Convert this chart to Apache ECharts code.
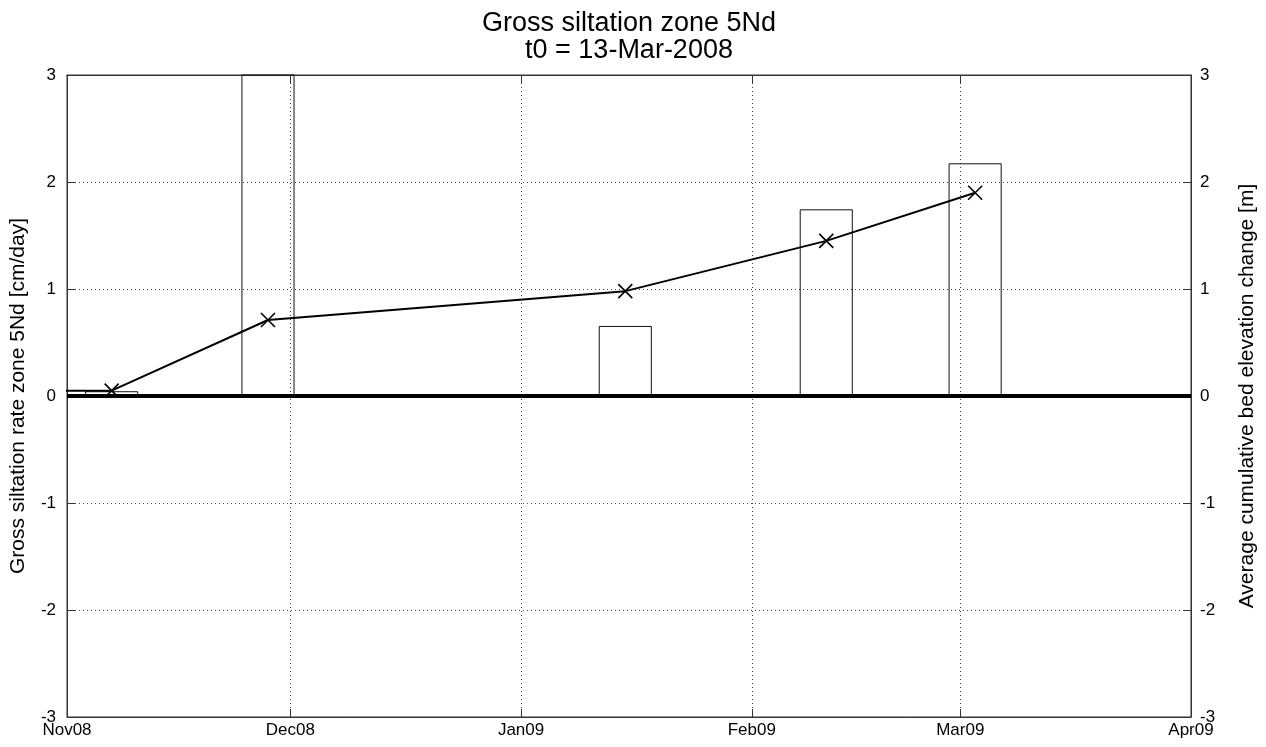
<!DOCTYPE html>
<html><head><meta charset="utf-8">
<script src="https://cdn.jsdelivr.net/npm/echarts@6/dist/echarts.min.js"></script>
<style>html,body{margin:0;padding:0;background:#fff}#c{width:1266px;height:747px}</style>
</head><body><div id="c"></div>
<script>
// ---- data ----
const titleText = 'Gross siltation zone 5Nd\nt0 = 13-Mar-2008';
const leftAxisName = 'Gross siltation rate zone 5Nd [cm/day]';
const rightAxisName = 'Average cumulative bed elevation change [m]';
const monthTicks = ['2008-11-01','2008-12-01','2009-01-01','2009-02-01','2009-03-01','2009-04-01'];
const monthLabels = ['Nov08','Dec08','Jan09','Feb09','Mar09','Apr09'];
const barDates = ['2008-11-07','2008-11-28','2009-01-15','2009-02-11','2009-03-03'];
const barRates = [0.04, 4.5, 0.65, 1.74, 2.17];
const barWidthDays = 7;
const cumDates = ['2008-03-13','2008-11-07','2008-11-28','2009-01-15','2009-02-11','2009-03-03'];
const cumValues = [0, 0.05, 0.71, 0.98, 1.45, 1.90];
const yMin = -3, yMax = 3, yStep = 1;

// ---- helpers ----
const DAY = 86400000;
function ts(s){ const p = s.split('-').map(Number); return Date.UTC(p[0], p[1]-1, p[2]); }
const tickTs = monthTicks.map(ts);
function monthFmt(v){
  for (let i = 0; i < tickTs.length; i++) if (Math.abs(tickTs[i]-v) < DAY/2) return monthLabels[i];
  return '';
}
const FONT = 'Liberation Sans, Arial, sans-serif';
const AX = '#333';
const gridLine = { show: true, lineStyle: { color: '#444', type: [1, 3], width: 1 } };

const chart = echarts.init(document.getElementById('c'), null, { renderer: 'canvas' });
chart.setOption({
  backgroundColor: '#fff',
  animation: false,
  title: {
    text: titleText, left: 624, top: 5, textAlign: 'center',
    textStyle: { fontFamily: FONT, fontSize: 27, fontWeight: 'normal', color: '#000', lineHeight: 27 }
  },
  grid: { left: 67, right: 75, top: 75, bottom: 30, show: true, borderColor: AX, borderWidth: 1, containLabel: false },
  xAxis: [{
    type: 'value', min: tickTs[0], max: tickTs[tickTs.length-1], position: 'bottom',
    axisLine: { show: true, onZero: false, lineStyle: { color: AX, width: 1 } },
    axisTick: { show: true, inside: true, length: 8, customValues: tickTs, lineStyle: { color: AX } },
    axisLabel: { show: true, customValues: tickTs, formatter: monthFmt, margin: 5, color: '#000',
      fontFamily: FONT, fontSize: 17, showMinLabel: true, showMaxLabel: true, hideOverlap: false },
    splitLine: gridLine
  }, {
    type: 'value', min: tickTs[0], max: tickTs[tickTs.length-1], position: 'top',
    axisLine: { show: true, onZero: false, lineStyle: { color: AX, width: 1 } },
    axisTick: { show: true, inside: true, length: 8, customValues: tickTs, lineStyle: { color: AX } },
    axisLabel: { show: false }, splitLine: { show: false }
  }],
  yAxis: [{
    type: 'value', min: yMin, max: yMax, interval: yStep, position: 'left',
    name: leftAxisName, nameLocation: 'middle', nameRotate: 90, nameGap: 38,
    nameTextStyle: { fontFamily: FONT, fontSize: 21, color: '#000' },
    axisLine: { show: true, onZero: false, lineStyle: { color: AX } },
    axisTick: { show: true, inside: true, length: 8, lineStyle: { color: AX } },
    axisLabel: { margin: 11, color: '#000', fontFamily: FONT, fontSize: 17 },
    splitLine: gridLine
  }, {
    type: 'value', min: yMin, max: yMax, interval: yStep, position: 'right',
    name: rightAxisName, nameLocation: 'middle', nameRotate: 90, nameGap: 46,
    nameTextStyle: { fontFamily: FONT, fontSize: 21, color: '#000' },
    axisLine: { show: true, onZero: false, lineStyle: { color: AX } },
    axisTick: { show: true, inside: true, length: 8, lineStyle: { color: AX } },
    axisLabel: { margin: 9, color: '#000', fontFamily: FONT, fontSize: 17 },
    splitLine: { show: false }
  }],
  series: [{
    type: 'custom', name: 'rate', xAxisIndex: 0, yAxisIndex: 0,
    data: barDates.map((d, i) => [ts(d), barRates[i]]),
    renderItem: function (params, api) {
      const c = api.value(0), v = api.value(1), half = barWidthDays * DAY / 2;
      const p1 = api.coord([c - half, v]);
      const p2 = api.coord([c + half, 0]);
      const shape = echarts.graphic.clipRectByRect(
        { x: p1[0], y: p1[1], width: p2[0] - p1[0], height: p2[1] - p1[1] },
        { x: params.coordSys.x, y: params.coordSys.y, width: params.coordSys.width, height: params.coordSys.height }
      );
      if (!shape) return null;
      return { type: 'rect', shape: shape, style: { fill: 'none', stroke: '#111', lineWidth: 1 } };
    },
    z: 2
  }, {
    type: 'line', name: 'cumulative', xAxisIndex: 0, yAxisIndex: 1, clip: true,
    data: cumDates.map((d, i) => [ts(d), cumValues[i]]),
    symbol: 'path://M0,0L10,10M10,0L0,10', symbolSize: 14, showSymbol: true, showAllSymbol: true,
    lineStyle: { color: '#000', width: 2 },
    itemStyle: { color: 'rgba(0,0,0,0)', borderColor: '#000', borderWidth: 1.6 },
    markLine: {
      silent: true, symbol: ['none', 'none'], label: { show: false },
      lineStyle: { color: '#000', width: 4, type: 'solid' },
      data: [{ yAxis: 0 }]
    },
    z: 3
  }]
});
</script>
</body></html>
